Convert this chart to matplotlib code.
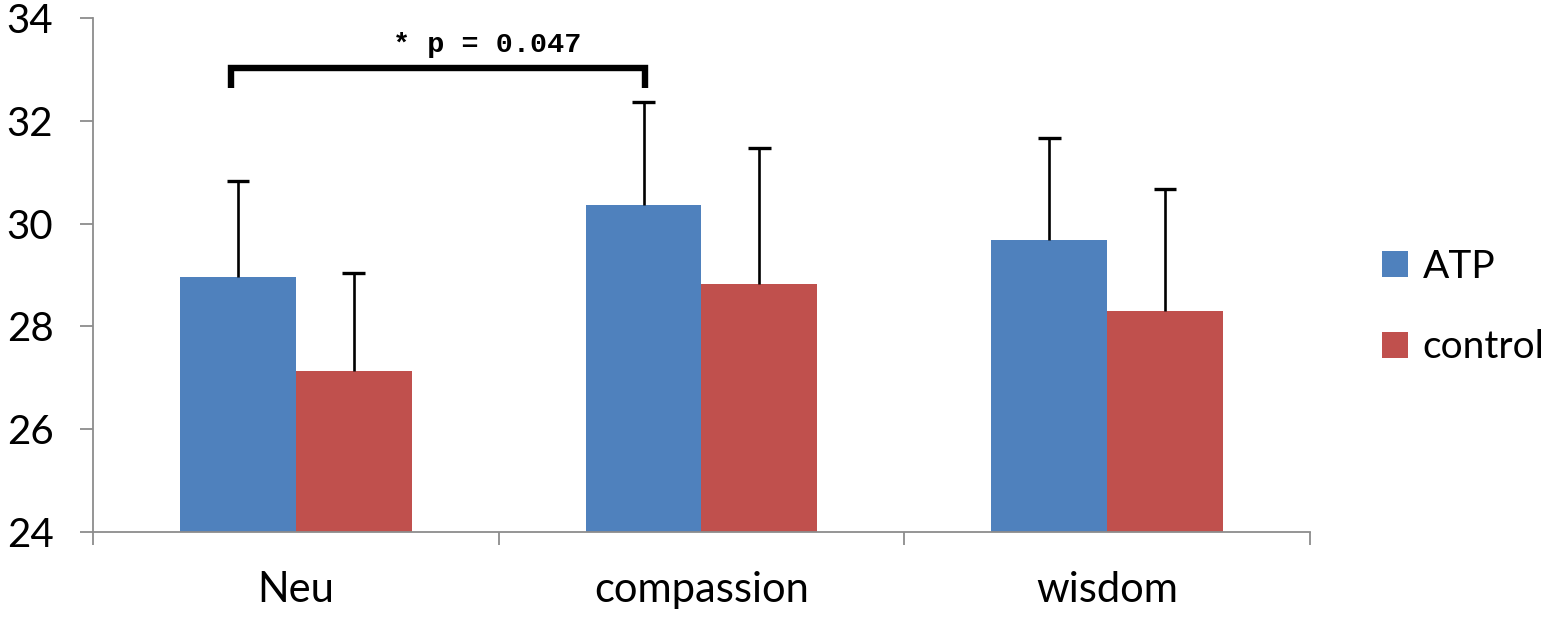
import matplotlib
matplotlib.use("Agg")
import matplotlib.pyplot as plt
from matplotlib.patches import Patch
import numpy as np

categories = ["Neu", "compassion", "wisdom"]
series_names = ["ATP", "control"]
atp_mean = [28.97, 30.37, 29.69]
atp_sd = [1.86, 1.99, 1.97]
control_mean = [27.14, 28.82, 28.29]
control_sd = [1.89, 2.66, 2.39]
y_ticks = [24, 26, 28, 30, 32, 34]
sig_text = "* p = 0.047"
sig_y = [32.64, 33.03]

blue = "#4F81BD"
red = "#C0504D"
axis_gray = "#8C8C8C"

plt.rcParams['font.family'] = ['Lato', 'DejaVu Sans']

fig = plt.figure(figsize=(15.59, 6.19), dpi=100)
ax = fig.add_axes([93/1559, 1-532/619, (1310-93)/1559, (532-18)/619])

x = np.arange(len(categories))
w = 116/406
cap = 0.028
for offs, mean, sd, col in [(-w/2, atp_mean, atp_sd, blue), (w/2, control_mean, control_sd, red)]:
    xs = x + offs
    mean = np.array(mean)
    top = mean + np.array(sd)
    ax.bar(xs, mean - 24, w, bottom=24, color=col, edgecolor="none", zorder=2)
    ax.vlines(xs, mean, top, color="black", lw=1.9, zorder=3)
    ax.hlines(top, xs - cap, xs + cap, color="black", lw=2.4, zorder=3)

# significance bracket
x0, x1 = x[0] - w/2 - 0.016, x[1] - w/2 + 0.004
ax.plot([x0, x0, x1, x1], [sig_y[0], sig_y[1], sig_y[1], sig_y[0]], color="black",
        lw=4.6, solid_joinstyle="miter", solid_capstyle="butt", clip_on=False, zorder=4)
ax.text((x0 + x1)/2 + 0.12, sig_y[1] + 0.2, sig_text, ha="center", va="bottom",
        fontsize=20.5, family=["Liberation Mono", "DejaVu Sans Mono"], fontweight="bold")

ax.set_xlim(-0.5, 2.5)
ax.set_ylim(24, 34)
ax.set_yticks(y_ticks)
ax.set_yticklabels([str(t) for t in y_ticks], fontsize=29)
ax.set_xticks(x)
ax.set_xticklabels(categories, fontsize=30)
ax.set_xticks([-0.5, 0.5, 1.5, 2.5], minor=True)
ax.tick_params(axis="x", which="major", length=0, pad=28)
ax.tick_params(axis="x", which="minor", length=9.5, width=1.3, color=axis_gray, direction="out")
ax.tick_params(axis="y", length=9.5, width=1.3, color=axis_gray, direction="out", pad=19)

for s in ["top", "right"]:
    ax.spines[s].set_visible(False)
for s in ["left", "bottom"]:
    ax.spines[s].set_color(axis_gray)
    ax.spines[s].set_linewidth(1.3)

handles = [Patch(facecolor=blue, edgecolor="none"), Patch(facecolor=red, edgecolor="none")]
fig.legend(handles, series_names, loc="center left", bbox_to_anchor=(1382/1559, 1-307/619),
           frameon=False, fontsize=28, handlelength=0.66, handleheight=0.66,
           labelspacing=1.15, handletextpad=0.38, borderaxespad=0, borderpad=0)

fig.savefig("out.png", dpi=100)
